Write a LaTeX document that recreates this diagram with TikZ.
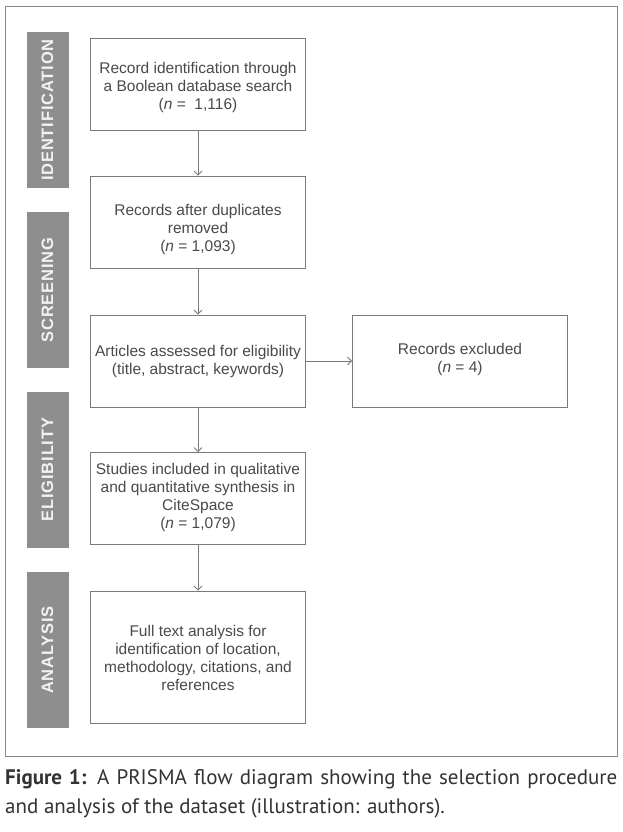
\documentclass[tikz,border=0pt]{standalone}
\usepackage{fontspec}
\setmainfont{Liberation Sans}
\newfontfamily\capfont{PT Sans}
\newfontfamily\bandfont[LetterSpace=5]{Liberation Sans}
\usetikzlibrary{arrows.meta}
\definecolor{bandgray}{HTML}{8E8E8E}
\definecolor{boxline}{HTML}{7A7A7A}
\definecolor{textgray}{HTML}{4A4A4A}
\definecolor{framegray}{HTML}{8A8A8A}
\definecolor{capgray}{HTML}{333333}
\begin{document}
\begin{tikzpicture}[x=1pt,y=-1pt,
  box/.style={draw=boxline, line width=0.8pt, fill=white, inner sep=0pt,
    minimum width=215pt, minimum height=92pt},
  lbl/.style={align=center, font=\fontsize{15.5}{18}\selectfont, text=textgray, inner sep=0pt},
  band/.style={fill=bandgray, draw=none, rotate=90, minimum height=42pt,
    minimum width=156pt, inner sep=0pt, text=white!95!black,
    font=\bandfont\bfseries\fontsize{16.5}{16.5}\selectfont},
  flow/.style={draw=boxline, line width=0.8pt, -{Straight Barb[length=4pt,width=8pt]}}]
\useasboundingbox (0,0) rectangle (622,832);
\fill[white] (0,0) rectangle (622,832);
\draw[framegray, line width=1pt] (5,7) rectangle (617,756.5);
% bands
\node[band] (bid) at (47.5,110) {IDENTIFICATION};
\node[band] (bsc) at (47.5,290) {SCREENING};
\node[band] (bel) at (47.5,469.5) {ELIGIBILITY};
\node[band] (ban) at (47.5,650) {ANALYSIS};
% boxes
\node[box] (b1) at (198,84) {};
\node[box] (b2) at (198,222) {};
\node[box] (b3) at (198,361) {};
\node[box] (b4) at (460,361) {};
\node[box] (b5) at (198,498.5) {};
\node[box, minimum height=132pt] (b6) at (198,657) {};
% box texts
\node[lbl] (t1) at ([yshift=-3pt]b1.center) {Record identification through\\a Boolean database search\\(\textit{n} =\ \ 1,116)};
\node[lbl] (t2) at ([yshift=-7.5pt]b2.center) {Records after duplicates\\removed\\(\textit{n} = 1,093)};
\node[lbl] (t3) at (b3.center) {Articles assessed for eligibility\\(title, abstract, keywords)};
\node[lbl] (t4) at ([yshift=2pt]b4.center) {Records excluded\\(\textit{n} = 4)};
\node[lbl] (t5) at ([yshift=1pt]b5.center) {Studies included in qualitative\\and quantitative synthesis in\\CiteSpace\\(\textit{n} = 1,079)};
\node[lbl] (t6) at ([yshift=-1pt]b6.center) {Full text analysis for\\identification of location,\\methodology, citations, and\\references};
% connectors
\draw[flow] (b1) -- (b2);
\draw[flow] (b2) -- (b3);
\draw[flow] (b3) -- (b4);
\draw[flow] (b3) -- (b5);
\draw[flow] (b5) -- (b6);
% caption
\node[anchor=base west, inner sep=0pt, text width=612pt, align=justify,
  font=\capfont\fontsize{21}{29}\selectfont, text=capgray] (cap) at (5,784)
  {\textbf{Figure 1:} A PRISMA flow diagram showing the selection procedure\linebreak
   and analysis of the dataset (illustration: authors).};
\end{tikzpicture}
\end{document}
